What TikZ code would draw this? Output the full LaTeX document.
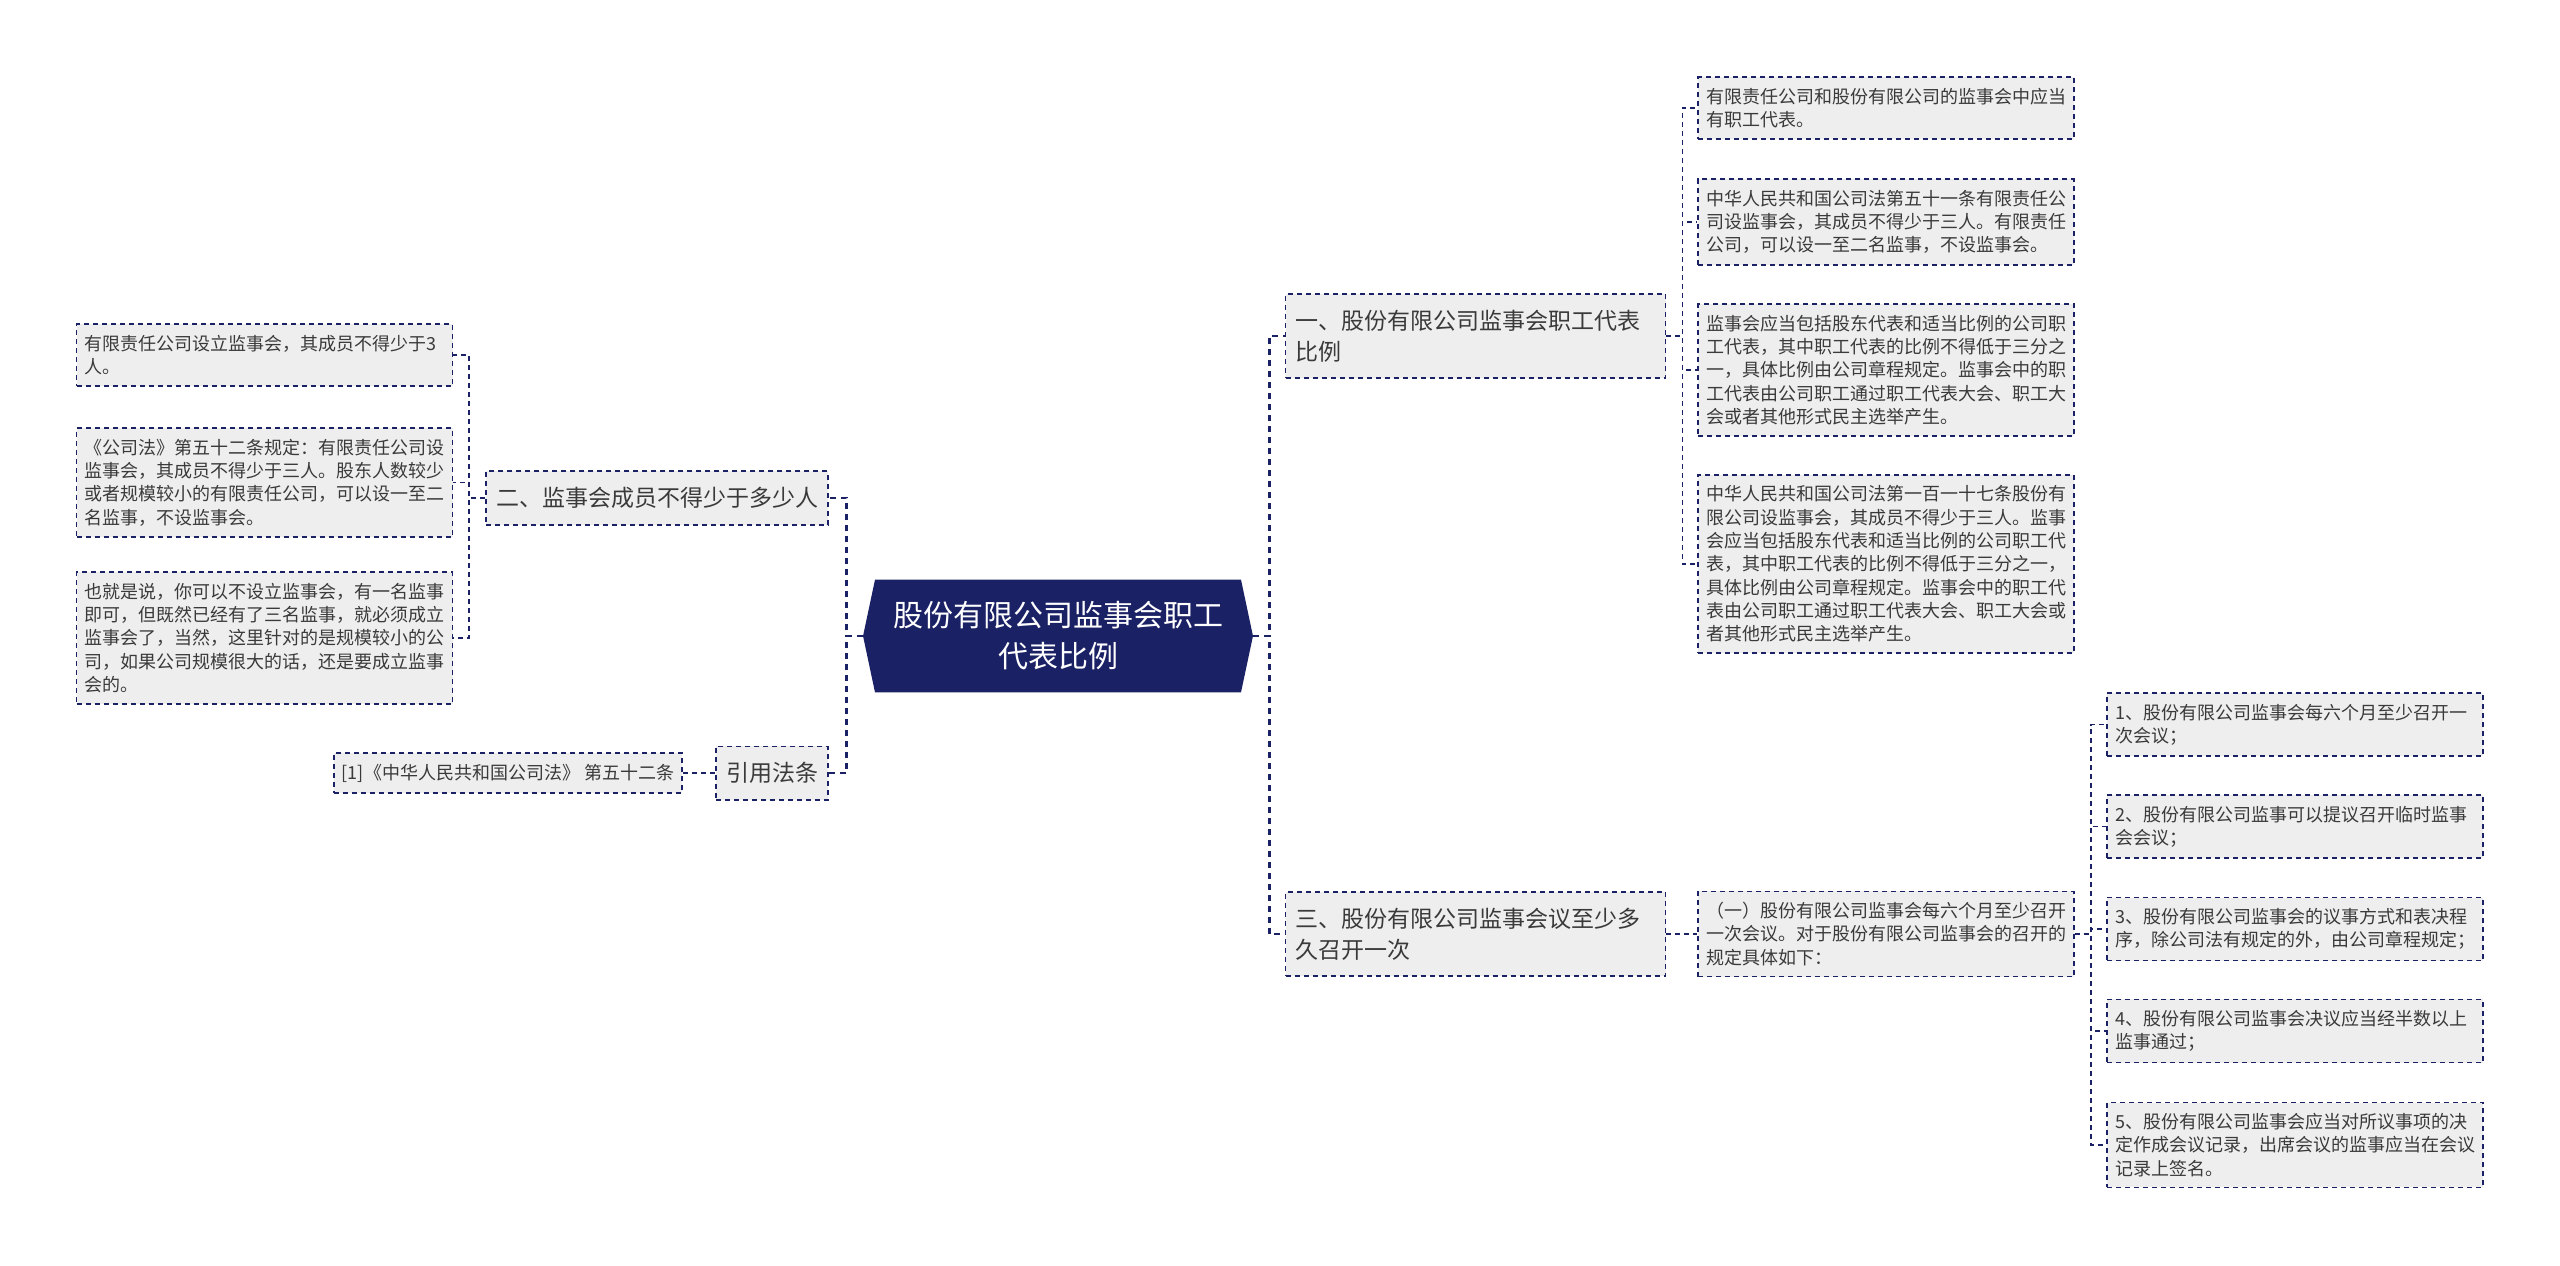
\documentclass[tikz,border=0pt]{standalone}
\usepackage{fontspec}
\setmainfont{Noto Sans CJK SC}
\usetikzlibrary{shapes.symbols}
\definecolor{navy}{HTML}{1B2165}
\definecolor{boxgray}{HTML}{EEEEEE}
\definecolor{inkgray}{HTML}{3A3A3A}

\begin{document}
\begin{tikzpicture}[x=0.5pt,y=-0.5pt,
    box/.style={draw=navy, fill=boxgray, dash pattern=on 2.5pt off 2pt, line width=0.85pt, text=inkgray, align=left},
    cite/.style={box, font=\fontsize{9pt}{11.65pt}\selectfont, inner xsep=4pt, inner ysep=5.4pt},
    leaf/.style={cite, text width=180pt},
    branch/.style={box, font=\fontsize{11.5pt}{15.5pt}\selectfont, inner xsep=5pt, inner ysep=8pt},
    topic/.style={shape=signal, signal to=west and east, signal pointer angle=156, fill=navy, text=white, align=center,
        font=\fontsize{15pt}{20.5pt}\selectfont, text width=165pt, inner xsep=9pt, inner ysep=11pt},
    link/.style={draw=navy, dash pattern=on 2.5pt off 2pt, line width=0.75pt},
    trunk/.style={draw=navy, dash pattern=on 3pt off 2.5pt, line width=1.4pt}]
  \useasboundingbox (0,0) rectangle (2560,1265);

  \node[topic] (root) at (1058,636) {股份有限公司监事会职工\\代表比例};

  % left side
  \node[branch] (er) at (657,498) {二、监事会成员不得少于多少人};
  \node[branch] (yinyong) at (772,773) {引用法条};
  \node[leaf] (er-1) at (264.5,355) {有限责任公司设立监事会，其成员不得少于3\\人。};
  \node[leaf] (er-2) at (264.5,482.5) {《公司法》第五十二条规定：有限责任公司设\\监事会，其成员不得少于三人。股东人数较少\\或者规模较小的有限责任公司，可以设一至二\\名监事，不设监事会。};
  \node[leaf] (er-3) at (264.5,638) {也就是说，你可以不设立监事会，有一名监事\\即可，但既然已经有了三名监事，就必须成立\\监事会了，当然，这里针对的是规模较小的公\\司，如果公司规模很大的话，还是要成立监事\\会的。};
  \node[cite] (yinyong-1) at (508,773) {[1]《中华人民共和国公司法》 第五十二条};

  % right side
  \node[branch, text width=180pt] (yi) at (1475.5,336) {一、股份有限公司监事会职工代表\\比例};
  \node[leaf] (yi-1) at (1886,108) {有限责任公司和股份有限公司的监事会中应当\\有职工代表。};
  \node[leaf] (yi-2) at (1886,222) {中华人民共和国公司法第五十一条有限责任公\\司设监事会，其成员不得少于三人。有限责任\\公司，可以设一至二名监事，不设监事会。};
  \node[leaf] (yi-3) at (1886,370) {监事会应当包括股东代表和适当比例的公司职\\工代表，其中职工代表的比例不得低于三分之\\一，具体比例由公司章程规定。监事会中的职\\工代表由公司职工通过职工代表大会、职工大\\会或者其他形式民主选举产生。};
  \node[leaf] (yi-4) at (1886,564) {中华人民共和国公司法第一百一十七条股份有\\限公司设监事会，其成员不得少于三人。监事\\会应当包括股东代表和适当比例的公司职工代\\表，其中职工代表的比例不得低于三分之一，\\具体比例由公司章程规定。监事会中的职工代\\表由公司职工通过职工代表大会、职工大会或\\者其他形式民主选举产生。};
  \node[branch, text width=180pt] (san) at (1475.5,934) {三、股份有限公司监事会议至少多\\久召开一次};
  \node[leaf] (san-1) at (1886,934) {（一）股份有限公司监事会每六个月至少召开\\一次会议。对于股份有限公司监事会的召开的\\规定具体如下：};
  \node[leaf] (san-1-1) at (2295,724.5) {1、股份有限公司监事会每六个月至少召开一\\次会议；};
  \node[leaf] (san-1-2) at (2295,826.5) {2、股份有限公司监事可以提议召开临时监事\\会会议；};
  \node[leaf] (san-1-3) at (2295,929) {3、股份有限公司监事会的议事方式和表决程\\序，除公司法有规定的外，由公司章程规定；};
  \node[leaf] (san-1-4) at (2295,1031) {4、股份有限公司监事会决议应当经半数以上\\监事通过；};
  \node[leaf] (san-1-5) at (2295,1145) {5、股份有限公司监事会应当对所议事项的决\\定作成会议记录，出席会议的监事应当在会议\\记录上签名。};

  % connectors
  \foreach \c in {er,yinyong}
    \draw[trunk] (root.west) -- ++(-8pt,0) |- (\c.east);
  \foreach \c in {er-1,er-2,er-3}
    \draw[link] (er.west) -- ++(-8pt,0) |- (\c.east);
  \draw[link] (yinyong.west) -- ++(-8pt,0) |- (yinyong-1.east);
  \foreach \c in {yi,san}
    \draw[trunk] (root.east) -- ++(8pt,0) |- (\c.west);
  \foreach \c in {yi-1,yi-2,yi-3,yi-4}
    \draw[link] (yi.east) -- ++(8pt,0) |- (\c.west);
  \draw[link] (san.east) -- ++(8pt,0) |- (san-1.west);
  \foreach \i in {1,...,5}
    \draw[link] (san-1.east) -- ++(8pt,0) |- (san-1-\i.west);
\end{tikzpicture}
\end{document}
